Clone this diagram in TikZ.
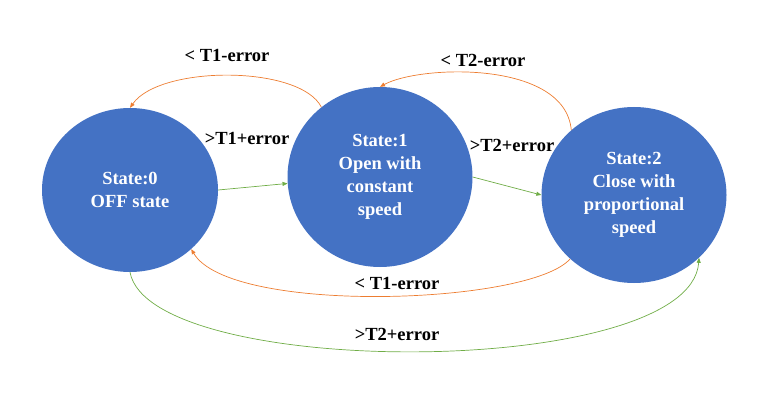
\documentclass[tikz,border=0pt]{standalone}
\usepackage{fontspec}
\setmainfont{Liberation Serif}
\usetikzlibrary{arrows.meta, shapes.geometric}
\definecolor{stblue}{RGB}{68,114,196}
\definecolor{uporange}{RGB}{237,125,49}
\definecolor{dngreen}{RGB}{112,173,71}

\begin{document}
\begin{tikzpicture}[x=1pt, y=1pt,
          every node/.style={font=\fontsize{18.5}{23}\selectfont\bfseries},
          st/.style={ellipse, fill=stblue, text=white, align=center, inner sep=0pt},
          lbl/.style={text=black, inner sep=1pt},
          fw/.style={-{Triangle[length=5pt, width=4pt]}, draw=dngreen, line width=0.7pt},
          bk/.style={-{Triangle[length=5pt, width=4pt]}, draw=uporange, line width=0.7pt}]
        \useasboundingbox (0,0) rectangle (777,405);
        \node[st, minimum width=176pt, minimum height=164pt] (s0) at (130,215) {State:0\\OFF state};
        \node[st, minimum width=185pt, minimum height=180pt] (s1) at (380,228) {State:1\\Open with\\constant\\speed};
        \node[st, minimum width=185pt, minimum height=176pt] (s2) at (634,210) {State:2\\Close with\\proportional\\speed};
        % labels
        \node[lbl] (l10) at (227,350) {< T1-error};
        \node[lbl] (l01) at (247,267) {>T1+error};
        \node[lbl] (l21) at (483,345) {< T2-error};
        \node[lbl] (l12) at (512,260) {>T2+error};
        \node[lbl] (l20) at (397,122) {< T1-error};
        \node[lbl] (l02) at (397,71) {>T2+error};
        % transitions
        \draw[fw] (s0.0) -- (s1.184);
        \draw[fw] (s1.0) -- (s2.180);
        \draw[bk] (s1.130) .. controls (300,340) and (160,340) .. (s0.90);
        \draw[bk] (s2.134) .. controls (565,345) and (420,340) .. (s1.90);
        \draw[bk] (s2.225) .. controls (530,100) and (230,90) .. (s0.316);
        \draw[fw] (s0.270) .. controls (150,25) and (690,25) .. (s2.316);
      \end{tikzpicture}
\end{document}
